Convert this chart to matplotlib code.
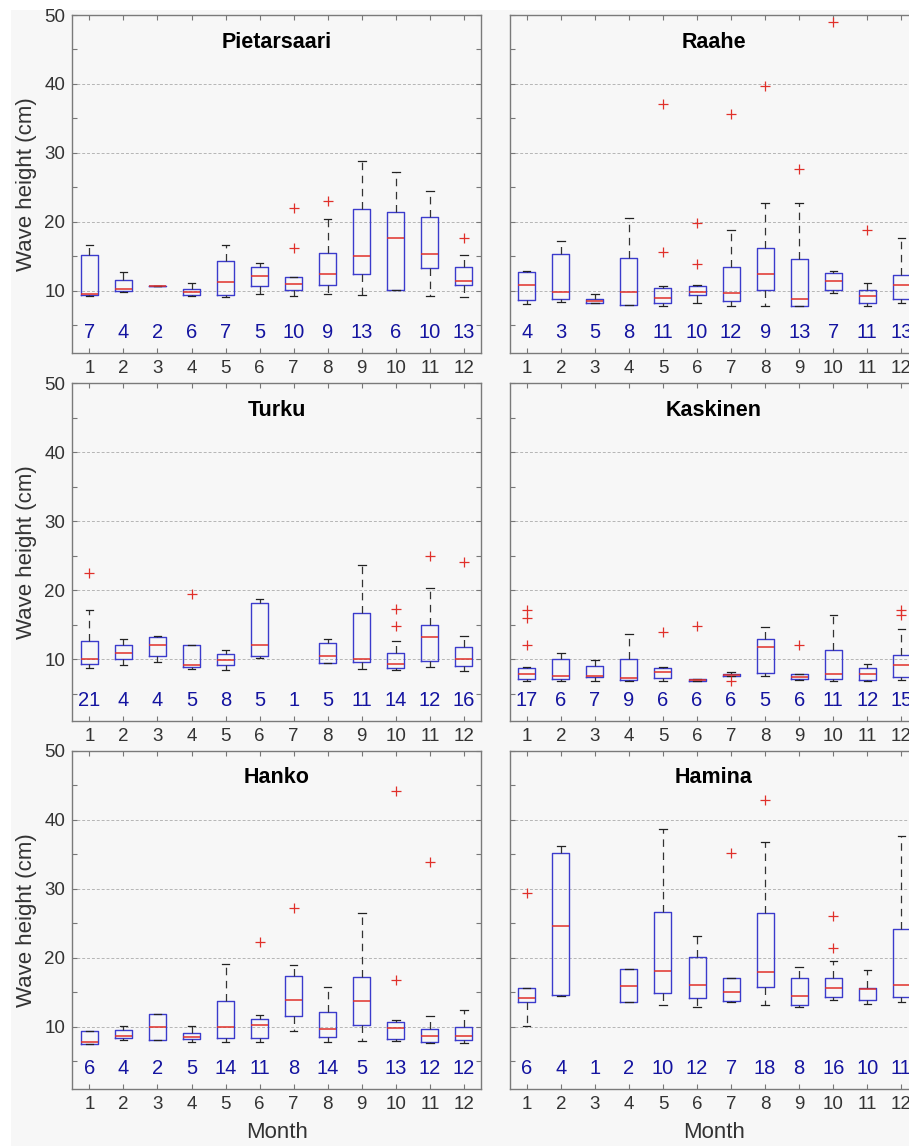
"""
Monthly wave height box plots for six Finnish tide gauge stations.
"""

import matplotlib
matplotlib.use("Agg")

import matplotlib.pyplot as plt
import numpy as np
from matplotlib.patches import Rectangle
from matplotlib.ticker import FixedLocator, FuncFormatter

STATIONS = ["Pietarsaari", "Raahe", "Turku", "Kaskinen", "Hanko", "Hamina"]
MONTHS = np.arange(1, 13)

# Box plot statistics per station (rows) and month (columns), cm.
# None = too few observations for a box.
WHISKER_LO = [
    [9.3, 9.9, 10.7, 9.3, 9.1, 9.5, 9.3, 9.5, 9.4, 10.1, 9.3, 9.1],
    [8.1, 8.4, 8.2, 7.9, 7.8, 8.3, 7.8, 7.8, 7.8, 9.7, 7.8, 8.3],
    [8.7, 9.1, 9.6, 8.6, 8.5, 10.2, None, 9.4, 8.6, 8.4, 8.8, 8.3],
    [6.9, 6.8, 6.8, 6.8, 6.8, 6.9, 7.5, 7.5, 7.0, 6.9, 6.8, 7.0],
    [7.5, 8.1, 8.0, 7.8, 7.7, 7.7, 9.3, 7.7, 7.9, 7.9, 7.6, 7.6],
    [10.1, 14.5, None, 13.6, 13.1, 12.9, 13.5, 13.1, 12.9, 13.8, 13.3, 13.5],
]
Q1 = [
    [9.4, 10.0, 10.7, 9.4, 9.4, 10.7, 10.2, 10.8, 12.5, 10.1, 13.3, 10.8],
    [8.7, 8.8, 8.3, 7.9, 8.3, 9.4, 8.6, 10.1, 7.8, 10.2, 8.3, 8.8],
    [9.3, 10.0, 10.4, 8.8, 9.2, 10.5, None, 9.4, 9.6, 8.7, 9.8, 9.0],
    [7.2, 7.1, 7.4, 7.0, 7.3, 6.9, 7.5, 8.0, 7.2, 7.1, 7.0, 7.4],
    [7.5, 8.3, 8.0, 8.2, 8.3, 8.4, 11.5, 8.5, 10.3, 8.2, 7.7, 8.0],
    [13.5, 14.6, None, 13.6, 14.9, 14.1, 13.7, 15.7, 13.2, 14.3, 13.9, 14.3],
]
MEDIAN = [
    [9.6, 10.3, 10.7, 9.9, 11.3, 12.2, 11.0, 12.5, 15.1, 17.6, 15.3, 11.5],
    [10.8, 9.9, 8.5, 9.8, 9.0, 9.8, 9.7, 12.4, 8.8, 11.5, 9.2, 10.8],
    [10.1, 10.9, 12.1, 9.1, 9.9, 12.0, None, 10.5, 10.1, 9.3, 13.2, 10.1],
    [7.8, 7.5, 7.6, 7.3, 8.2, 7.0, 7.7, 11.7, 7.4, 7.8, 7.8, 9.2],
    [7.8, 8.7, 10.0, 8.5, 10.0, 10.2, 13.9, 9.6, 13.7, 9.8, 8.6, 8.6],
    [14.2, 24.6, None, 15.9, 18.0, 16.1, 15.0, 17.9, 14.4, 15.6, 15.4, 16.1],
]
Q3 = [
    [15.2, 11.6, 10.7, 10.3, 14.3, 13.5, 12.0, 15.5, 21.9, 21.4, 20.7, 13.4],
    [12.7, 15.4, 8.8, 14.8, 10.4, 10.7, 13.4, 16.2, 14.6, 12.6, 10.1, 12.3],
    [12.6, 12.0, 13.2, 12.0, 10.8, 18.1, None, 12.4, 16.7, 10.9, 15.0, 11.7],
    [8.7, 10.1, 9.0, 10.1, 8.7, 7.1, 7.9, 13.0, 7.9, 11.3, 8.7, 10.6],
    [9.3, 9.5, 11.8, 9.1, 13.7, 11.1, 17.3, 12.1, 17.2, 10.6, 9.6, 9.9],
    [15.6, 35.2, None, 18.3, 26.6, 20.1, 17.1, 26.5, 17.1, 17.1, 15.6, 24.2],
]
WHISKER_HI = [
    [16.7, 12.8, 10.7, 11.1, 16.7, 14.0, 12.0, 20.4, 28.8, 27.2, 24.5, 15.2],
    [12.9, 17.2, 9.6, 20.5, 10.7, 10.8, 18.9, 22.8, 22.8, 12.9, 11.1, 17.7],
    [17.1, 12.9, 13.4, 12.0, 11.3, 18.8, None, 12.9, 23.6, 12.7, 20.3, 13.3],
    [8.9, 10.9, 9.9, 13.7, 8.8, 7.1, 8.2, 14.6, 7.9, 16.4, 9.3, 14.4],
    [9.4, 10.1, 11.8, 10.1, 19.1, 11.7, 18.9, 15.8, 26.4, 10.9, 11.5, 12.4],
    [15.6, 36.2, None, 18.3, 38.6, 23.1, 17.1, 36.8, 18.6, 19.5, 18.2, 37.7],
]
OUTLIERS = [
    [[], [], [], [], [], [], [22.0, 16.2], [23.0], [], [], [], [17.6]],
    [[], [], [], [], [37.1, 15.6], [19.9, 13.9], [35.6], [39.7], [27.7],
     [49.0], [18.9], []],
    [[22.5], [], [], [19.4], [], [], [], [], [], [17.3, 14.8], [24.9], [24.1]],
    [[17.2, 16.0, 12.1], [], [], [], [13.9], [14.8], [6.8], [], [12.0], [],
     [], [17.1, 16.4]],
    [[], [], [], [], [], [22.2], [27.2], [], [], [44.2, 16.8], [33.8], []],
    [[29.3], [], [], [], [], [], [35.1], [42.9], [], [26.0, 21.4], [], []],
]
COUNTS = [
    [7, 4, 2, 6, 7, 5, 10, 9, 13, 6, 10, 13],
    [4, 3, 5, 8, 11, 10, 12, 9, 13, 7, 11, 13],
    [21, 4, 4, 5, 8, 5, 1, 5, 11, 14, 12, 16],
    [17, 6, 7, 9, 6, 6, 6, 5, 6, 11, 12, 15],
    [6, 4, 2, 5, 14, 11, 8, 14, 5, 13, 12, 12],
    [6, 4, 1, 2, 10, 12, 7, 18, 8, 16, 10, 11],
]

FIG_W, FIG_H = 909, 1146
BG = "#f7f7f7"
BOX_C = "#3b3bcc"
MED_C = "#e0302a"
COUNT_C = "#1414a0"
TEXT_C = "#333333"
COUNT_Y = 4.0

# axes boxes in pixels: (left, top, width, height)
COL_X = [72.3, 509.7]
ROW_Y = [15.0, 383.3, 750.7]
AX_W, AX_H = 408.7, 338.0

plt.rcParams["font.family"] = ["Liberation Sans", "DejaVu Sans"]


def draw_station(ax, idx, show_ylabels):
    stats, pos = [], []
    for m in range(12):
        if MEDIAN[idx][m] is None:
            continue
        stats.append(dict(med=MEDIAN[idx][m], q1=Q1[idx][m], q3=Q3[idx][m],
                          whislo=WHISKER_LO[idx][m], whishi=WHISKER_HI[idx][m],
                          fliers=OUTLIERS[idx][m]))
        pos.append(MONTHS[m])

    ax.bxp(stats, positions=pos, widths=0.5, capwidths=0.22,
           manage_ticks=False,
           boxprops=dict(color=BOX_C, lw=1.0),
           medianprops=dict(color=MED_C, lw=1.1),
           whiskerprops=dict(color="#333333", lw=0.9, ls=(0, (6, 4.5))),
           capprops=dict(color="#222222", lw=0.9),
           flierprops=dict(marker="+", markeredgecolor=MED_C, markersize=7,
                           markeredgewidth=0.9, linestyle="none"))

    for m, n in zip(MONTHS, COUNTS[idx]):
        ax.text(m, COUNT_Y, str(n), ha="center", va="center",
                fontsize=14.5, color=COUNT_C, clip_on=False)

    ax.text(0.5, 0.92, STATIONS[idx], transform=ax.transAxes,
            ha="center", va="center", fontsize=15.5, fontweight="bold",
            color="black")

    ax.set_facecolor(BG)
    ax.set_xlim(0.5, 12.5)
    ax.set_ylim(1, 50)
    ax.set_xticks(MONTHS)
    ax.set_xticklabels([str(m) for m in MONTHS])
    ax.yaxis.set_major_locator(FixedLocator(np.arange(10, 51, 10)))
    ax.yaxis.set_minor_locator(FixedLocator(np.arange(5, 50, 10)))
    ax.yaxis.set_major_formatter(FuncFormatter(lambda v, _: f"{v:.0f}"))
    ax.grid(axis="y", which="major", color="#b5b5b5", lw=0.7,
            ls=(0, (3, 2)))
    ax.set_axisbelow(True)

    for which in ("major", "minor"):
        ax.tick_params(axis="both", which=which, direction="in", length=3.5,
                       width=0.8, color="#777777", top=True, right=True,
                       labelsize=13.5, labelcolor=TEXT_C, pad=5)
    if not show_ylabels:
        ax.tick_params(axis="y", labelleft=False)
    for sp in ax.spines.values():
        sp.set_color("#7a7a7a")
        sp.set_linewidth(1.0)


def main():
    fig = plt.figure(figsize=(FIG_W / 100, FIG_H / 100), dpi=100,
                     facecolor="white")
    # light backdrop with a thin white border on the top and left
    fig.add_artist(Rectangle((11 / FIG_W, 0), 1, 1 - 10 / FIG_H,
                             transform=fig.transFigure, facecolor=BG,
                             edgecolor="none", zorder=-1))

    for idx in range(len(STATIONS)):
        row, col = divmod(idx, 2)
        left = COL_X[col] / FIG_W
        bottom = 1 - (ROW_Y[row] + AX_H) / FIG_H
        ax = fig.add_axes([left, bottom, AX_W / FIG_W, AX_H / FIG_H])
        draw_station(ax, idx, show_ylabels=(col == 0))
        if col == 0:
            ax.set_ylabel("Wave height (cm)", fontsize=16, color=TEXT_C)
            ax.yaxis.set_label_coords(-0.086, 0.5)
        if row == 2:
            ax.set_xlabel("Month", fontsize=16, color=TEXT_C)
            ax.xaxis.set_label_coords(0.5, -0.1)

    fig.savefig("out.png", dpi=100, facecolor=fig.get_facecolor())
    plt.close(fig)


if __name__ == "__main__":
    main()
